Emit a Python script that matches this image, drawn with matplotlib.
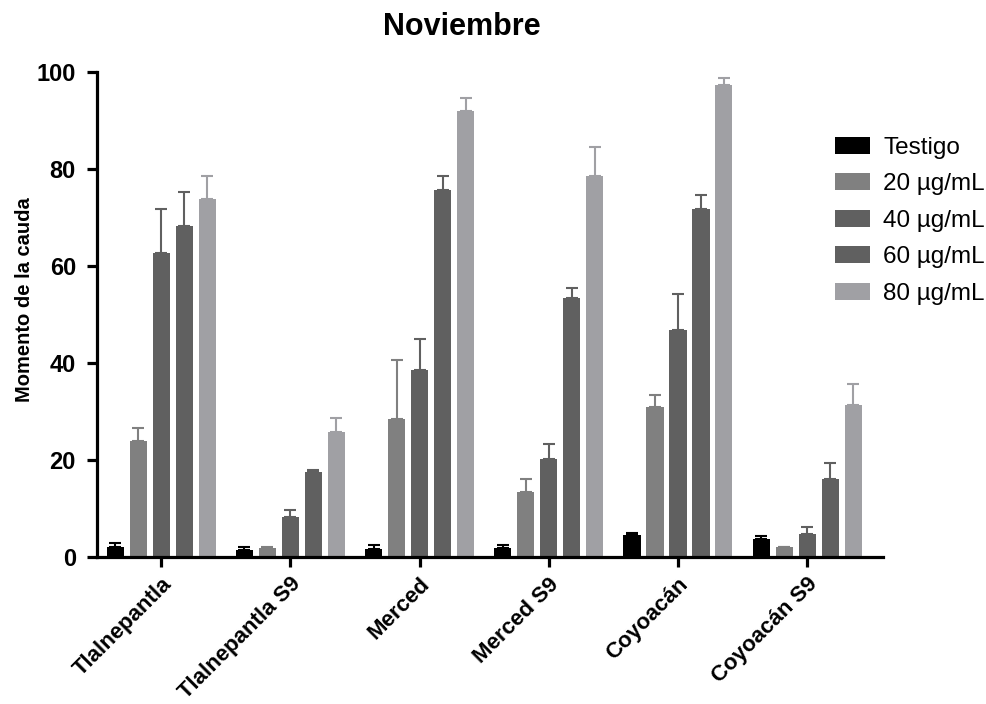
import numpy as np
import matplotlib.pyplot as plt
from matplotlib.patches import Patch

plt.rcParams['font.family'] = ['Liberation Sans', 'DejaVu Sans']

sites = ['Tlalnepantla', 'Tlalnepantla S9', 'Merced', 'Merced S9', 'Coyoacán', 'Coyoacán S9']
series = ['Testigo', '20 µg/mL', '40 µg/mL', '60 µg/mL', '80 µg/mL']
colors = ['#000000', '#808080', '#606060', '#606060', '#a0a0a4']

testigo = [2.1, 1.4, 1.6, 1.9, 4.5, 3.7]
c20 = [23.8, 1.8, 28.4, 13.3, 30.8, 2.0]
c40 = [62.7, 8.3, 38.6, 20.2, 46.7, 4.7]
c60 = [68.2, 17.4, 75.6, 53.4, 71.8, 16.1]
c80 = [73.8, 25.7, 92.0, 78.6, 97.3, 31.3]

err_testigo = [0.7, 0.6, 0.9, 0.6, 0.5, 0.7]
err_20 = [2.7, 0.2, 12.1, 2.8, 2.5, 0.1]
err_40 = [9.1, 1.3, 6.4, 3.1, 7.4, 1.4]
err_60 = [7.1, 0.6, 2.9, 2.0, 2.8, 3.3]
err_80 = [4.7, 2.9, 2.6, 5.8, 1.4, 4.3]

values = [testigo, c20, c40, c60, c80]
errors = [err_testigo, err_20, err_40, err_60, err_80]

fig = plt.figure(figsize=(9.87, 7.04), dpi=100)
ax = fig.add_axes([0.098, 0.209, 0.797, 0.689])

x = np.arange(len(sites))
step = 0.178
width = 0.132
for i in range(5):
    err = np.array(errors[i])
    ax.bar(x + (i - 2) * step, values[i], width, color=colors[i],
           yerr=[np.zeros_like(err), err], ecolor=colors[i],
           error_kw=dict(elinewidth=1.5, capsize=4.5, capthick=1.5),
           label=series[i], zorder=2)

ax.set_xlim(-0.5, 5.59)
ax.set_ylim(0, 100)
ax.set_yticks([0, 20, 40, 60, 80, 100])
ax.set_xticks(x)
ax.set_xticklabels(sites, rotation=45, ha='right', rotation_mode='anchor')
for lab in ax.get_yticklabels():
    lab.set_fontweight('bold')
    lab.set_fontsize(17)
for lab in ax.get_xticklabels():
    lab.set_fontweight('bold')
    lab.set_fontsize(16)

ax.spines['top'].set_visible(False)
ax.spines['right'].set_visible(False)
ax.spines['left'].set_linewidth(2.3)
ax.spines['bottom'].set_linewidth(2.3)
ax.tick_params(axis='both', length=7, width=2.3)
ax.tick_params(axis='y', pad=8)
ax.tick_params(axis='x', pad=5)
ax.set_ylabel('Momento de la cauda', fontsize=14.5, fontweight='bold')
ax.yaxis.set_label_coords(-0.08, 0.53)

fig.text(0.468, 0.962, 'Noviembre', ha='center', va='center', fontsize=22, fontweight='bold')

handles = [Patch(facecolor=c, edgecolor='none') for c in colors]
fig.legend(handles, series, loc='upper left', bbox_to_anchor=(0.846, 0.806),
           frameon=False, fontsize=17.5, handlelength=1.45, handleheight=0.7,
           labelspacing=0.6, borderpad=0, borderaxespad=0, handletextpad=0.53)

fig.savefig('out.png', dpi=100)
